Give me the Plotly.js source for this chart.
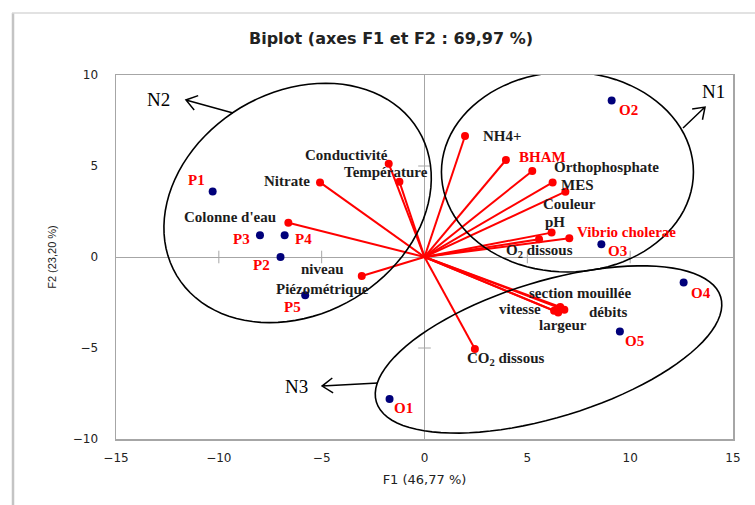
<!DOCTYPE html>
<html>
<head>
<meta charset="utf-8">
<script src="https://cdn.plot.ly/plotly-3.0.1.min.js"></script>
<style>html,body{margin:0;padding:0;background:#fff;}#chart{width:755px;height:505px;}</style>
</head>
<body>
<div id="chart"></div>
<script>
// ---- Data ----
const obsNames = ['P1','P2','P3','P4','P5','O1','O2','O3','O4','O5'];
const obsF1 = [-10.3, -7.0, -8.0, -6.8, -5.8, -1.7, 9.1, 8.6, 12.6, 9.5];
const obsF2 = [3.6, 0.0, 1.2, 1.2, -2.1, -7.8, 8.6, 0.7, -1.4, -4.1];

const varNames = ['Conductivité','Température','Nitrate',"Colonne d'eau",'niveau<br>Piézométrique',
  'NH4+','BHAM','Orthophosphate','MES','Couleur','pH','Vibrio cholerae','O<sub>2</sub> dissous',
  'CO<sub>2</sub> dissous','section mouillée','vitesse','débits','largeur'];
const varF1 = [-1.74, -1.22, -5.08, -6.62, -3.05, 1.97, 3.96, 5.24, 6.23, 6.85, 6.18, 7.04, 5.57, 2.45, 6.6, 6.3, 6.8, 6.5];
const varF2 = [5.13, 4.14, 4.10, 1.88, -1.04, 6.65, 5.33, 4.73, 4.10, 3.59, 1.34, 1.03, 0.97, -5.05, -2.75, -2.95, -2.9, -3.05];

const xTicks = [-15, -10, -5, 0, 5, 10, 15];
const yTicks = [-10, -5, 0, 5, 10];

// ---- Label placement (pixel offsets) and styles ----
const obsShift = [[-16,11],[-19,-8],[-18,-4],[19,-4],[-13,-12],[14,-9],[17,-10],[16,-7],[17,-11],[15,-9]];
const varShift = [[-42,9],[-13,10],[-33,1],[-58,6],[-39,-3],[37,0],[37,3],[74,4],[25,-3],[4,-12],[3,11],[57,6],[0,-12],[31,-10],[20,14],[-34,2],[44,-2],[5,-12]];
const varRedLabel = ['BHAM','Vibrio cholerae'];

const M = {l:116, r:22, t:75, b:66};
const W = 755, H = 505;
const kx = (W - M.l - M.r) / 30;   // px per F1 unit
const ky = (H - M.t - M.b) / 20;   // px per F2 unit

// Variable vectors from origin
const lx = [], ly = [];
varF1.forEach((v,i)=>{ lx.push(0, v, null); ly.push(0, varF2[i], null); });

const innerX = xTicks.filter(v=>v!==0 && Math.abs(v)<15);
const innerY = yTicks.filter(v=>v!==0 && Math.abs(v)<10);

const traces = [
  {type:'scatter', mode:'lines', x:lx, y:ly, line:{color:'#ff0000', width:2}, hoverinfo:'skip', showlegend:false},
  {type:'scatter', mode:'markers', x:varF1, y:varF2, marker:{color:'#ff0000', size:8}, hoverinfo:'skip', showlegend:false},
  {type:'scatter', mode:'markers', x:obsF1, y:obsF2, marker:{color:'#00007a', size:8}, hoverinfo:'skip', showlegend:false},
  // tick marks on the zero lines
  {type:'scatter', mode:'markers', x:innerX, y:innerX.map(()=>0),
    marker:{symbol:'line-ns', size:9, line:{color:'#a6a6a6', width:1}}, hoverinfo:'skip', showlegend:false},
  {type:'scatter', mode:'markers', y:innerY, x:innerY.map(()=>0),
    marker:{symbol:'line-ew', size:9, line:{color:'#a6a6a6', width:1}}, hoverinfo:'skip', showlegend:false}
];

function ellipsePath(cx, cy, a, b, deg){
  const th = deg*Math.PI/180; let s='';
  for(let i=0;i<=96;i++){
    const t = 2*Math.PI*i/96;
    const px = a*Math.cos(t)*Math.cos(th) - b*Math.sin(t)*Math.sin(th);
    const py = a*Math.cos(t)*Math.sin(th) + b*Math.sin(t)*Math.cos(th);
    s += (i===0?'M':'L') + (cx+px/kx).toFixed(4) + ',' + (cy+py/ky).toFixed(4) + ' ';
  }
  return s + 'Z';
}
function arrowPath(tx, ty, hx, hy){
  const dx=(hx-tx)*kx, dy=(hy-ty)*ky, L=Math.hypot(dx,dy), ux=dx/L, uy=dy/L;
  const len=13, ang=35*Math.PI/180;
  const arm = s => {
    const c=Math.cos(s*ang), sn=Math.sin(s*ang);
    const rx = ux*c - uy*sn, ry = ux*sn + uy*c;
    return [hx - len*rx/kx, hy - len*ry/ky];
  };
  const a1=arm(1), a2=arm(-1);
  return `M${tx},${ty} L${hx},${hy} M${a1[0]},${a1[1]} L${hx},${hy} L${a2[0]},${a2[1]}`;
}

// Group ellipses: [centreF1, centreF2, semi-axis a (px), semi-axis b (px), rotation deg]
const groups = [
  {name:'N1', ell:[6.95, 4.67, 126, 100, 0], tail:[12.57, 7.09], head:[13.64, 8.24], lab:[14.07, 9.07]},
  {name:'N2', ell:[-6.17, 2.97, 141, 111, 31], tail:[-9.31, 7.91], head:[-11.6, 8.63], lab:[-12.91, 8.63]},
  {name:'N3', ell:[6.03, -5.08, 180, 68, 17], tail:[-2.26, -6.92], head:[-4.98, -7.09], lab:[-6.2, -7.09]}
];

const shapes = [];
groups.forEach(g=>{
  shapes.push({type:'path', xref:'x', yref:'y', path:ellipsePath(...g.ell), line:{color:'#000', width:1.6}});
  shapes.push({type:'path', xref:'x', yref:'y', path:arrowPath(g.tail[0],g.tail[1],g.head[0],g.head[1]), line:{color:'#000', width:1.5}});
});
// outer chart border (left/top, as cropped in the reference)
const PW = W-M.l-M.r, PH = H-M.t-M.b;
shapes.push({type:'line', xref:'paper', yref:'paper', x0:(13-M.l)/PW, x1:(13-M.l)/PW, y0:(H-M.b-13)/PH, y1:(H-M.b-510)/PH, line:{color:'#c4c4c4', width:2.5}});
shapes.push({type:'line', xref:'paper', yref:'paper', x0:(12-M.l)/PW, x1:(760-M.l)/PW, y0:(H-M.b-13)/PH, y1:(H-M.b-13)/PH, line:{color:'#d9d9d9', width:1.5}});

const serif = 'Liberation Serif, Times New Roman, serif';
const annotations = [];
obsNames.forEach((n,i)=>annotations.push({x:obsF1[i], y:obsF2[i], text:n, showarrow:false, xshift:obsShift[i][0], yshift:obsShift[i][1],
  font:{family:serif, size:15, color:'#ff0000', weight:'bold'}}));
varNames.forEach((n,i)=>annotations.push({x:varF1[i], y:varF2[i], text:n, showarrow:false, xshift:varShift[i][0], yshift:varShift[i][1],
  font:{family:serif, size:15, color: varRedLabel.includes(n)?'#ff0000':'#1c1c1c', weight:'bold'}}));
groups.forEach(g=>annotations.push({x:g.lab[0], y:g.lab[1], text:g.name, showarrow:false,
  font:{family:serif, size:19, color:'#000'}}));

const sans = 'DejaVu Sans, Verdana, sans-serif';
const layout = {
  width:W, height:H, margin:M, paper_bgcolor:'#fff', plot_bgcolor:'#fff',
  title:{text:'<b>Biplot (axes F1 et F2 : 69,97 %)</b>', x:391/W, xref:'container', xanchor:'center', y:1-38/H, yanchor:'middle',
    font:{family:sans, size:16, color:'#222'}},
  xaxis:{range:[-15,15], tickvals:xTicks, showgrid:false, zeroline:true, zerolinecolor:'#a6a6a6', zerolinewidth:1,
    showline:true, mirror:true, linecolor:'#a6a6a6', linewidth:1.5, ticks:'', ticklabelstandoff:7,
    tickfont:{family:sans, size:12, color:'#222'},
    title:{text:'F1 (46,77 %)', standoff:11, font:{family:sans, size:13, color:'#222'}}},
  yaxis:{range:[-10,10], tickvals:yTicks, showgrid:false, zeroline:true, zerolinecolor:'#a6a6a6', zerolinewidth:1,
    showline:true, mirror:true, linecolor:'#a6a6a6', linewidth:1.5, ticks:'', ticklabelstandoff:14,
    tickfont:{family:sans, size:12, color:'#222'},
    title:{text:'F2 (23,20 %)', standoff:14, font:{family:'Liberation Sans, Arial, sans-serif', size:11, color:'#222'}}},
  shapes:shapes, annotations:annotations, showlegend:false
};

Plotly.newPlot('chart', traces, layout, {staticPlot:true, displayModeBar:false});
</script>
</body>
</html>
